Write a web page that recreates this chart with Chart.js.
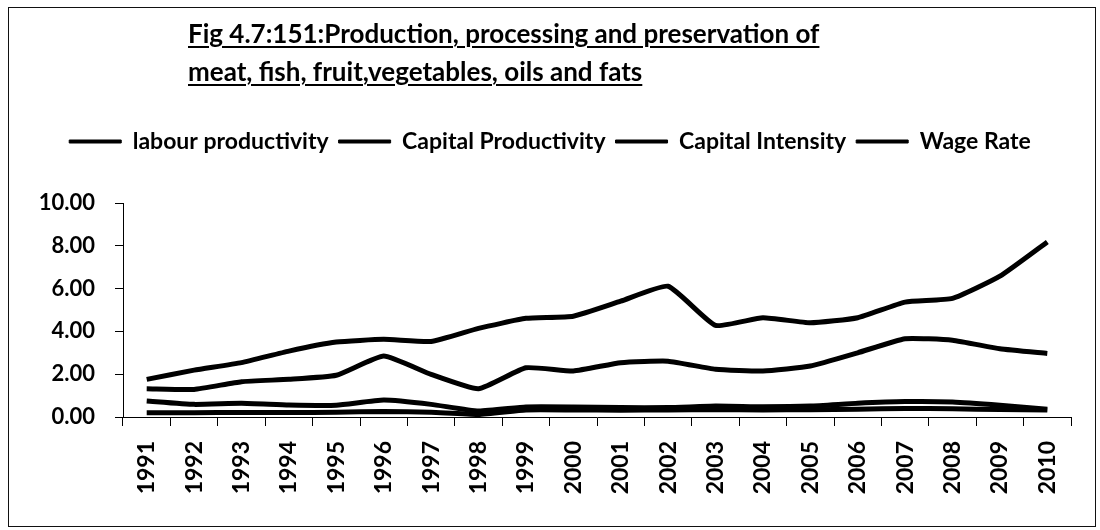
<!DOCTYPE html>
<html>
<head>
<meta charset="UTF-8">
<title>Fig 4.7:151</title>
<style>
html, body {
	margin: 0;
	padding: 0;
	background: #fff;
}
.frame {
	position: absolute;
	left: 8px;
	top: 7px;
	width: 1086px;
	height: 518px;
	border: 1px solid #111;
}
.chart-title {
	position: absolute;
	left: 188px;
	top: 14px;
	font-family: Lato, "Liberation Sans", sans-serif;
	font-weight: bold;
	font-size: 26px;
	line-height: 38px;
	color: #000;
	text-decoration: underline;
	text-decoration-thickness: 2px;
	text-underline-offset: 3px;
	white-space: nowrap;
}
.chart-container {
	position: absolute;
	left: 0;
	top: 0;
	width: 1100px;
	height: 530px;
}
</style>
<script src="https://cdn.jsdelivr.net/npm/chart.js"></script>
</head>
<body>
	<div class="frame"></div>
	<div class="chart-container">
		<canvas id="line-chart"></canvas>
	</div>
	<div class="chart-title">Fig 4.7:151:Production, processing and preservation of<br>meat, fish, fruit,vegetables, oils and fats</div>

	<script>
		const years = ['1991', '1992', '1993', '1994', '1995', '1996', '1997', '1998', '1999', '2000',
				'2001', '2002', '2003', '2004', '2005', '2006', '2007', '2008', '2009', '2010'];
		const labourProductivity = [1.76, 2.19, 2.54, 3.08, 3.50, 3.63, 3.53, 4.14, 4.61, 4.71,
				5.41, 6.11, 4.28, 4.64, 4.40, 4.64, 5.37, 5.54, 6.58, 8.18];
		const capitalProductivity = [0.75, 0.59, 0.64, 0.56, 0.55, 0.79, 0.59, 0.28, 0.47, 0.47,
				0.44, 0.44, 0.51, 0.48, 0.51, 0.64, 0.72, 0.70, 0.55, 0.36];
		const capitalIntensity = [1.32, 1.29, 1.65, 1.76, 1.95, 2.85, 1.99, 1.32, 2.30, 2.15,
				2.54, 2.61, 2.23, 2.15, 2.38, 3.00, 3.66, 3.59, 3.19, 2.97];
		const wageRate = [0.20, 0.20, 0.21, 0.21, 0.22, 0.26, 0.22, 0.12, 0.33, 0.33,
				0.32, 0.33, 0.34, 0.33, 0.34, 0.36, 0.40, 0.38, 0.35, 0.33];
		const yTicks = [0, 2, 4, 6, 8, 10];

		const FONT = 'Lato, "Liberation Sans", sans-serif';

		function series(label, data) {
			return {
				label : label,
				data : data,
				borderColor : '#000',
				backgroundColor : '#000',
				borderWidth : 5,
				pointRadius : 0,
				tension : 0.15,
				fill : false
			};
		}

		// extra room under the legend so the plot starts where the original does
		const legendSpacer = {
			id : 'legendSpacer',
			beforeInit(chart) {
				const fit = chart.legend.fit;
				chart.legend.fit = function() {
					fit.bind(chart.legend)();
					this.height += 40;
				};
			}
		};

		let config = {
			type : 'line',
			data : {
				labels : years,
				datasets : [
					series('labour productivity', labourProductivity),
					series('Capital Productivity', capitalProductivity),
					series('Capital Intensity', capitalIntensity),
					series('Wage Rate', wageRate)
				]
			},
			options : {
				responsive : false,
				animation : false,
				layout : {
					padding : { top : 120, right : 29, bottom : 0, left : 29 }
				},
				plugins : {
					legend : {
						position : 'top',
						labels : {
							boxWidth : 52,
							boxHeight : 3,
							padding : 10,
							color : '#000',
							font : { family : FONT, size : 23, weight : 'bold' },
							generateLabels(chart) {
								const items = Chart.defaults.plugins.legend.labels.generateLabels(chart);
								items.forEach(it => { it.lineWidth = 1; });
								return items;
							}
						}
					},
					tooltip : { enabled : false }
				},
				scales : {
					x : {
						offset : true,
						grid : {
							offset : true,
							drawOnChartArea : false,
							drawTicks : true,
							tickLength : 9,
							color : '#000'
						},
						border : { display : true, color : '#000', width : 1 },
						ticks : {
							color : '#000',
							maxRotation : 90,
							minRotation : 90,
							padding : 15,
							font : { family : FONT, size : 23, weight : 'bold' }
						},
						afterFit(scale) {
							scale.height = 113;
						}
					},
					y : {
						min : 0,
						max : 10,
						afterBuildTicks(scale) {
							scale.ticks = yTicks.map(v => ({ value : v }));
						},
						grid : {
							drawOnChartArea : false,
							drawTicks : true,
							tickLength : 8,
							color : '#000'
						},
						border : { display : true, color : '#000', width : 1 },
						ticks : {
							color : '#000',
							padding : 20,
							font : { family : FONT, size : 22, weight : 'bold' },
							callback : v => v.toFixed(2)
						},
						afterFit(scale) {
							scale.width = 94;
						}
					}
				}
			},
			plugins : [ legendSpacer ]
		};

		const canvas = document.querySelector('#line-chart');
		canvas.width = 1100;
		canvas.height = 530;
		new Chart(canvas, config);
	</script>
</body>
</html>
